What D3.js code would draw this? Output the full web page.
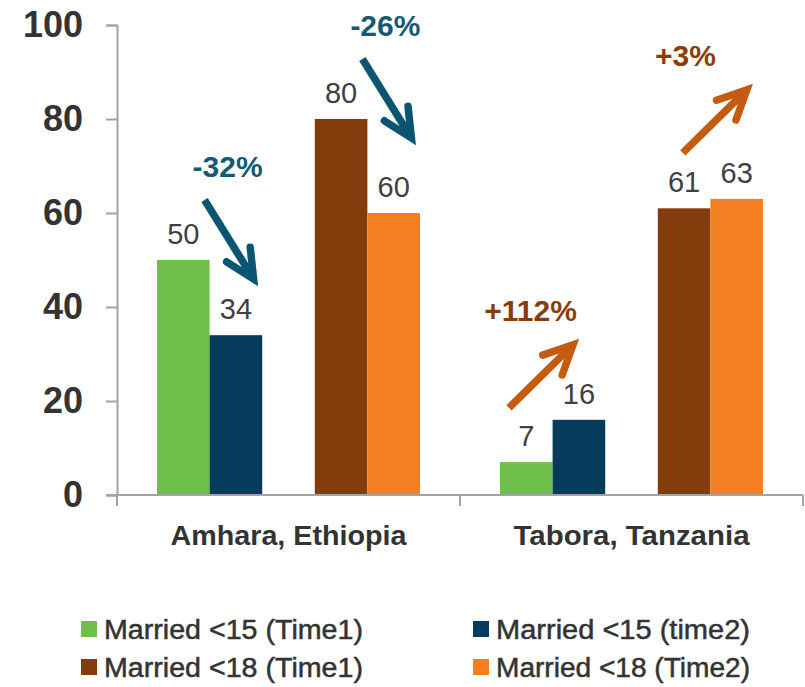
<!DOCTYPE html>
<html>
<head>
<meta charset="utf-8">
<script src="https://cdn.jsdelivr.net/npm/d3@7"></script>
<style>
  html, body { margin: 0; padding: 0; background: #fff; }
  svg { display: block; font-family: "Liberation Sans", Arial, sans-serif; }
</style>
</head>
<body>
<svg id="chart" width="805" height="687"></svg>
<script>
"use strict";

// Data
const regions = ["Amhara, Ethiopia", "Tabora, Tanzania"];
const seriesNames = ["Married <15 (Time1)", "Married <15 (time2)", "Married <18 (Time1)", "Married <18 (Time2)"];
const seriesColors = ["#6fc04b", "#073b5b", "#843c0c", "#f47f22"];
const slots = ["s0", "s1", "gap", "s2", "s3"]; // empty slot between the two pairs
const married15T1 = [50, 7];
const married15T2 = [34, 16];
const married18T1 = [80, 61];
const married18T2 = [60, 63];
const yTicks = [0, 20, 40, 60, 80, 100];

// Change annotations: which region, the pair of series it compares, label
const changeRegion = [0, 0, 1, 1];
const changePair = [[0, 1], [2, 3], [0, 1], [2, 3]];
const changeLabels = ["-32%", "-26%", "+112%", "+3%"];

const values = [married15T1, married15T2, married18T1, married18T2];

const svg = d3.select("#chart");
const margin = { left: 117, right: 2, top: 25, bottom: 192 };
const W = 805, H = 687;
const plotBottom = H - margin.bottom; // 495

const x = d3.scaleBand().domain(regions).range([margin.left, W - margin.right]).padding(0);
const xSlot = d3.scaleBand().domain(slots).range([40, x.bandwidth() - 40]).padding(0);
const y = d3.scaleLinear().domain([0, 100]).range([plotBottom, margin.top]);

const axisColor = "#a3a3a3";
const slotOf = (si) => slots.filter((s) => s !== "gap")[si];

// Bars
const g = svg.append("g");
values.forEach((vals, si) => {
  vals.forEach((v, ri) => {
    const bx = x(regions[ri]) + xSlot(slotOf(si));
    g.append("rect")
      .attr("x", bx)
      .attr("y", y(v))
      .attr("width", xSlot.bandwidth())
      .attr("height", y(0) - y(v))
      .attr("fill", seriesColors[si]);
    g.append("text")
      .attr("x", bx + xSlot.bandwidth() / 2)
      .attr("y", y(v) - 16)
      .attr("text-anchor", "middle")
      .attr("font-size", 29)
      .attr("fill", "#404040")
      .text(v);
  });
});

// Y axis
const yAxis = svg.append("g")
  .attr("transform", `translate(${margin.left},0)`)
  .call(d3.axisLeft(y).tickValues(yTicks).tickSize(11).tickPadding(23));
yAxis.select(".domain").attr("stroke", axisColor).attr("stroke-width", 2);
yAxis.selectAll(".tick line").attr("stroke", axisColor).attr("stroke-width", 2);
yAxis.selectAll(".tick text")
  .attr("font-size", 36).attr("font-weight", "bold").attr("fill", "#333")
  .attr("font-family", "Liberation Sans, Arial, sans-serif");

// X axis baseline + category separators
svg.append("line")
  .attr("x1", margin.left - 11).attr("x2", W - margin.right)
  .attr("y1", plotBottom).attr("y2", plotBottom)
  .attr("stroke", axisColor).attr("stroke-width", 2);
const bounds = regions.map((r) => x(r)).concat([x(regions[regions.length - 1]) + x.bandwidth()]);
bounds.forEach((bx) => {
  svg.append("line")
    .attr("x1", bx).attr("x2", bx)
    .attr("y1", plotBottom).attr("y2", plotBottom + 11)
    .attr("stroke", axisColor).attr("stroke-width", 2);
});
regions.forEach((r) => {
  svg.append("text")
    .attr("x", x(r) + x.bandwidth() / 2)
    .attr("y", 545)
    .attr("text-anchor", "middle")
    .attr("font-size", 27)
    .attr("font-weight", "bold")
    .attr("fill", "#333")
    .attr("textLength", 236)
    .attr("lengthAdjust", "spacingAndGlyphs")
    .text(r);
});

// Change arrows, placed relative to the pair of bars they compare
const teal = "#0b5573", tealText = "#155a74";
const rust = "#c55a11", rustText = "#8a3d0b";
changeLabels.forEach((lab, i) => {
  const ri = changeRegion[i];
  const [a, b] = changePair[i];
  const xa = x(regions[ri]) + xSlot(slotOf(a));
  const t1 = values[a][ri], t2 = values[b][ri];
  const down = t2 < t1;
  const col = down ? teal : rust;
  const bw = xSlot.bandwidth();
  let x0, y0, x1, y1, lx, ly;
  if (down) {
    x0 = xa + bw - 5; y0 = y(t1) - 60;
    x1 = x0 + 49; y1 = y0 + 79;
    lx = xa + bw + 18; ly = y0 - 23;
  } else {
    const small = t1 < 20;
    x0 = xa + (small ? 9 : 25); y0 = y(Math.max(t1, t2)) - (small ? 12 : 46);
    x1 = x0 + 64; y1 = y0 - 63;
    lx = xa + bw - 22 + (small ? 0 : -3); ly = y1 - 24;
  }
  const ang = Math.atan2(y1 - y0, x1 - x0);
  const hl = 32, spread = Math.PI / 7;
  const p1 = [x1 - hl * Math.cos(ang - spread), y1 - hl * Math.sin(ang - spread)];
  const p2 = [x1 - hl * Math.cos(ang + spread), y1 - hl * Math.sin(ang + spread)];
  svg.append("line")
    .attr("x1", x0).attr("y1", y0).attr("x2", x1 - 3 * Math.cos(ang)).attr("y2", y1 - 3 * Math.sin(ang))
    .attr("stroke", col).attr("stroke-width", 7.5).attr("stroke-linecap", "butt");
  svg.append("path")
    .attr("d", `M${p1[0]},${p1[1]}L${x1},${y1}L${p2[0]},${p2[1]}`)
    .attr("fill", "none").attr("stroke", col).attr("stroke-width", 7.5)
    .attr("stroke-linecap", "round").attr("stroke-linejoin", "miter");
  svg.append("text")
    .attr("x", lx).attr("y", ly)
    .attr("text-anchor", "middle")
    .attr("font-size", 30).attr("font-weight", "bold")
    .attr("fill", down ? tealText : rustText)
    .text(lab);
});

// Legend
const legX = [81, 473];
const legY = [629, 667];
seriesNames.forEach((name, i) => {
  const lx = legX[i % 2], ly = legY[Math.floor(i / 2)];
  svg.append("rect")
    .attr("x", lx).attr("y", ly - 8).attr("width", 16).attr("height", 16)
    .attr("fill", seriesColors[i]);
  svg.append("text")
    .attr("x", lx + 23).attr("y", ly + 10)
    .attr("font-size", 27).attr("fill", "#333")
    .attr("stroke", "#333").attr("stroke-width", 0.5)
    .attr("textLength", i % 2 ? 254 : 259)
    .attr("lengthAdjust", "spacingAndGlyphs")
    .text(name);
});
</script>
</body>
</html>
